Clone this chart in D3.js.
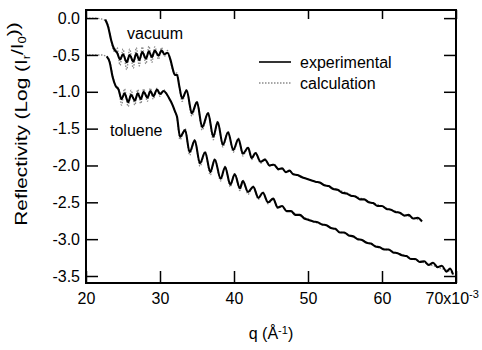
<!DOCTYPE html>
<html><head><meta charset="utf-8">
<script src="https://cdn.jsdelivr.net/npm/d3@7"></script>
<style>
body{margin:0;background:#fff}
svg{display:block}
text{font-family:"Liberation Sans",Arial,sans-serif;fill:#000}
</style>
</head><body>
<svg id="c" width="482" height="350"></svg>
<script>
// ---- data ----
const xTicks=[20,30,40,50,60,70];
const xTickLabels=["20","30","40","50","60","70x10"];
const yTicks=[0,-0.5,-1,-1.5,-2,-2.5,-3,-3.5];
const yTickLabels=["0.0","-0.5","-1.0","-1.5","-2.0","-2.5","-3.0","-3.5"];
const legendLabels=["experimental","calculation"];
const sampleLabels=["vacuum","toluene"];

const qVac=[20,21,22,22.6,23.0,23.4,23.8,24.2,24.6,25.0,25.5,25.9,26.4,26.8,27.2,27.6,28.1,28.5,28.9,29.3,29.8,30.2,30.6,31.0,31.4,31.7,32.0,32.3,32.6,33.0,33.6,34.3,35.0,35.7,36.5,37.2,37.8,38.5,39.2,39.9,40.6,41.2,41.9,42.4,42.9,43.6,44.2,44.8,45.4,46.0,46.5,47.0,47.5,48.0,48.6,49.2,49.8,50.4,51.0,51.6,52.2,52.8,53.4,54.0,54.6,55.2,55.8,56.4,57.0,57.6,58.2,58.8,59.4,60.0,60.6,61.2,61.8,62.4,63.0,63.6,64.2,64.8,65.4];
const vacExp=[null,null,null,-0.02,-0.12,-0.30,-0.42,-0.47,-0.56,-0.49,-0.60,-0.50,-0.59,-0.48,-0.57,-0.46,-0.55,-0.45,-0.53,-0.44,-0.51,-0.44,-0.49,-0.47,-0.56,-0.68,-0.77,-0.77,-0.92,-1.09,-0.98,-1.29,-1.14,-1.48,-1.29,-1.61,-1.41,-1.72,-1.55,-1.79,-1.64,-1.84,-1.76,-1.90,-1.83,-1.95,-1.92,-2.00,-1.99,-2.05,-2.04,-2.09,-2.07,-2.12,-2.13,-2.16,-2.18,-2.20,-2.22,-2.23,-2.27,-2.28,-2.32,-2.33,-2.37,-2.38,-2.41,-2.42,-2.46,-2.46,-2.50,-2.51,-2.55,-2.55,-2.59,-2.60,-2.63,-2.64,-2.68,-2.67,-2.72,-2.71,-2.76];
const vacCalc=[0.00,0.00,-0.01,-0.03,-0.10,-0.30,-0.45,-0.40,-0.64,-0.42,-0.70,-0.42,-0.68,-0.40,-0.65,-0.39,-0.62,-0.38,-0.60,-0.39,-0.56,-0.40,-0.52,-0.44,-0.58,-0.70,-0.76,-0.74,-0.93,-1.13,-0.97,-1.33,-1.13,-1.52,-1.28,-1.65,-1.40,-1.75,-1.54,-1.82,-1.63,-1.87,-1.75,-1.92,-1.82,-1.97,-1.91,-2.01,-1.98,-2.06,-2.04,-2.09,-2.08,-2.11,-2.13,-2.16,-2.18,-2.20,-2.22,-2.24,-2.26,-2.28,-2.31,-2.33,-2.35,-2.37,-2.40,-2.42,-2.44,-2.46,-2.49,-2.51,-2.53,-2.55,-2.58,-2.60,-2.62,-2.64,-2.67,-2.69,-2.71,-2.73,-2.75];

const qTol=[20,21,22,22.8,23.2,23.6,24.0,24.4,24.8,25.2,25.7,26.1,26.6,27.0,27.4,27.8,28.3,28.7,29.1,29.6,30.0,30.5,30.9,31.3,31.7,32.0,32.3,32.7,33.4,34.0,34.7,35.4,36.1,36.8,37.4,38.2,38.8,39.5,40.1,40.8,41.2,41.9,42.6,43.3,43.9,44.6,45.3,45.9,46.5,47.1,47.7,48.3,48.9,49.5,50.1,50.7,51.3,51.9,52.5,53.1,53.7,54.3,54.9,55.5,56.1,56.7,57.3,57.9,58.5,59.1,59.7,60.3,60.9,61.5,62.1,62.7,63.3,63.9,64.5,65.1,65.7,66.3,66.9,67.5,68.1,68.7,69.2,69.6];
const tolExp=[null,null,null,-0.52,-0.60,-0.80,-0.92,-0.97,-1.10,-1.02,-1.14,-1.04,-1.12,-1.02,-1.10,-1.00,-1.08,-0.99,-1.06,-0.97,-1.03,-0.99,-1.03,-1.10,-1.18,-1.26,-1.34,-1.61,-1.52,-1.82,-1.66,-1.97,-1.82,-2.09,-1.92,-2.18,-2.02,-2.26,-2.12,-2.31,-2.21,-2.36,-2.29,-2.44,-2.37,-2.50,-2.45,-2.57,-2.55,-2.62,-2.62,-2.67,-2.67,-2.72,-2.74,-2.76,-2.77,-2.80,-2.81,-2.85,-2.86,-2.91,-2.91,-2.95,-2.96,-3.00,-3.01,-3.05,-3.06,-3.10,-3.11,-3.14,-3.14,-3.18,-3.19,-3.22,-3.23,-3.27,-3.27,-3.31,-3.30,-3.35,-3.32,-3.38,-3.36,-3.44,-3.40,-3.48];
const tolCalc=[-0.50,-0.50,-0.50,-0.52,-0.58,-0.78,-0.92,-0.95,-1.18,-0.96,-1.20,-0.98,-1.18,-0.97,-1.16,-0.96,-1.13,-0.95,-1.10,-0.95,-1.06,-0.97,-1.04,-1.10,-1.19,-1.27,-1.36,-1.65,-1.50,-1.86,-1.65,-2.01,-1.81,-2.13,-1.91,-2.21,-2.01,-2.29,-2.11,-2.34,-2.20,-2.39,-2.28,-2.46,-2.36,-2.52,-2.45,-2.58,-2.55,-2.62,-2.62,-2.66,-2.68,-2.71,-2.73,-2.76,-2.78,-2.80,-2.82,-2.85,-2.87,-2.90,-2.92,-2.94,-2.97,-2.99,-3.01,-3.04,-3.06,-3.09,-3.11,-3.13,-3.15,-3.17,-3.19,-3.21,-3.23,-3.26,-3.28,-3.30,-3.32,-3.34,-3.36,-3.38,-3.40,-3.42,-3.44,-3.46];

// ---- layout ----
const svg=d3.select("#c");
const L=86,R=456,T=10,B=283;
const x=d3.scaleLinear().domain([20,70]).range([L,R]);
const y=d3.scaleLinear().domain([-3.595,0.11]).range([B,T]);

const line=d3.line().defined(d=>d[1]!=null).x(d=>x(d[0])).y(d=>y(d[1])).curve(d3.curveMonotoneX);
const zip=(a,b)=>a.map((q,i)=>[q,b[i]]);

// calculation (under), experimental (over)
[[qVac,vacCalc],[qTol,tolCalc]].forEach(([q,v])=>{
  svg.append("path").datum(zip(q,v)).attr("d",line)
    .attr("fill","none").attr("stroke","#8a8a8a").attr("stroke-width",1.4).attr("stroke-dasharray","1.5,1.5");
});
[[qVac,vacExp],[qTol,tolExp]].forEach(([q,v])=>{
  svg.append("path").datum(zip(q,v)).attr("d",line)
    .attr("fill","none").attr("stroke","#000").attr("stroke-width",2.1).attr("stroke-linejoin","round");
});

// axes
const fs="16px";
const gx=svg.append("g").attr("transform",`translate(0,${B})`)
  .call(d3.axisBottom(x).tickValues(xTicks).tickSize(-12).tickPadding(10).tickFormat((d,i)=>xTickLabels[i]));
const gxt=svg.append("g").attr("transform",`translate(0,${T})`)
  .call(d3.axisTop(x).tickValues(xTicks).tickSize(-9).tickFormat(""));
const gy=svg.append("g").attr("transform",`translate(${L},0)`)
  .call(d3.axisLeft(y).tickValues(yTicks).tickSize(-12).tickPadding(6).tickFormat((d,i)=>yTickLabels[i]));
const gyr=svg.append("g").attr("transform",`translate(${R},0)`)
  .call(d3.axisRight(y).tickValues(yTicks).tickSize(-12).tickFormat(""));
[gx,gxt,gy,gyr].forEach(g=>{
  g.select(".domain").remove();
  g.selectAll(".tick line").attr("stroke","#000").attr("stroke-width",1.5);
  g.selectAll("text").style("font-size",fs).attr("fill","#000").style("font-family",'"Liberation Sans",Arial,sans-serif');
});
// last x label with superscript exponent
const lastLbl=gx.selectAll(".tick text").filter((d,i)=>i===xTicks.length-1);
lastLbl.attr("text-anchor","start").attr("x",-31);
lastLbl.append("tspan").text("-3").attr("dy","-0.55em").style("font-size","11px");

svg.append("rect").attr("x",L).attr("y",T).attr("width",R-L).attr("height",B-T)
  .attr("fill","none").attr("stroke","#000").attr("stroke-width",2);

// sample labels
svg.append("text").attr("x",127).attr("y",39).style("font-size",fs).text(sampleLabels[0]);
svg.append("text").attr("x",110).attr("y",136).style("font-size",fs).text(sampleLabels[1]);

// legend
svg.append("line").attr("x1",259).attr("x2",291).attr("y1",62).attr("y2",62).attr("stroke","#000").attr("stroke-width",1.6);
svg.append("line").attr("x1",259).attr("x2",291).attr("y1",83).attr("y2",83).attr("stroke","#8a8a8a").attr("stroke-width",1.3).attr("stroke-dasharray","1.5,1.5");
svg.append("text").attr("x",300).attr("y",68).style("font-size",fs).text(legendLabels[0]);
svg.append("text").attr("x",300).attr("y",89).style("font-size",fs).text(legendLabels[1]);

// axis titles
const yt=svg.append("text").attr("transform","translate(27,124) rotate(-90) scale(1.3,1)").attr("text-anchor","middle").style("font-size","16px");
yt.append("tspan").text("Reflectivity (Log (I");
yt.append("tspan").text("r").attr("dy","0.3em").style("font-size","10px");
yt.append("tspan").text("/I").attr("dy","-0.45em");
yt.append("tspan").text("0").attr("dy","0.3em").style("font-size","10px");
yt.append("tspan").text("))").attr("dy","-0.45em");

const xt=svg.append("text").attr("x",271).attr("y",339).attr("text-anchor","middle").style("font-size","16px");
xt.append("tspan").text("q (Å");
xt.append("tspan").text("-1").attr("dy","-0.5em").style("font-size","11px");
xt.append("tspan").text(")").attr("dy","0.35em");
</script>
</body></html>
